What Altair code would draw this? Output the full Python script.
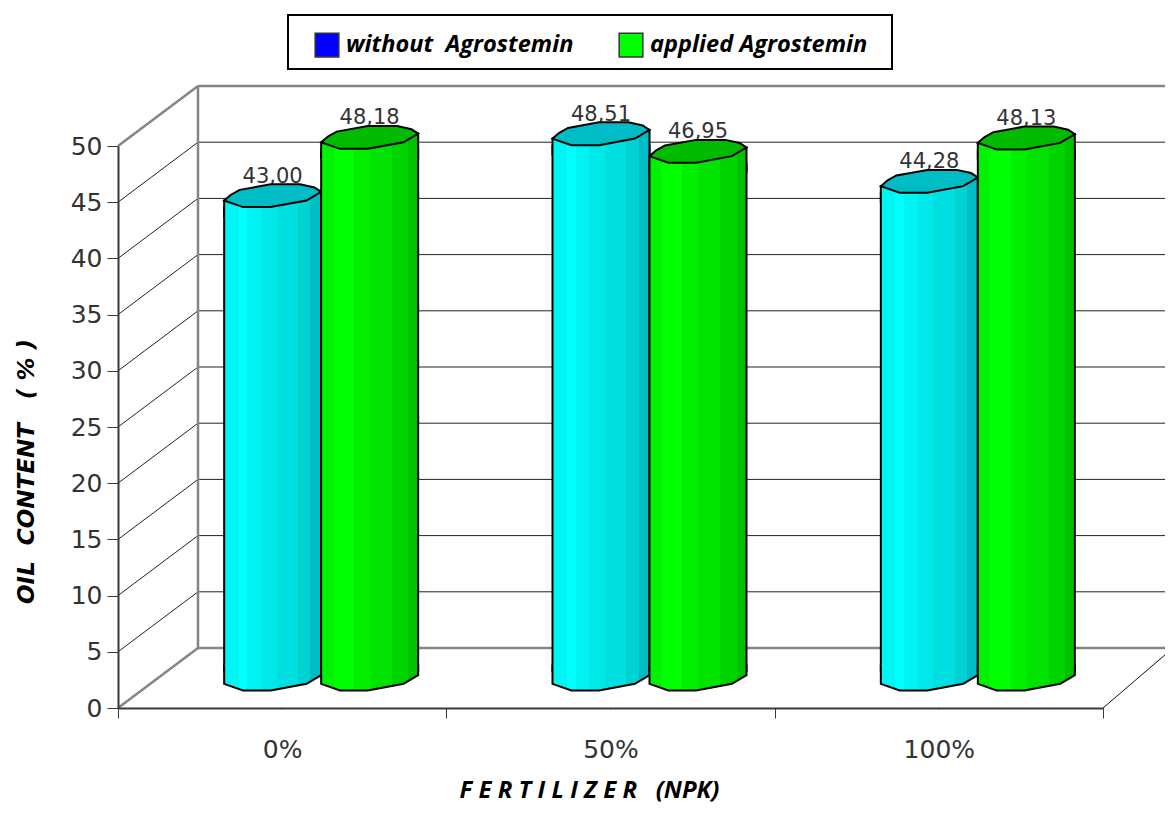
import altair as alt
import pandas as pd

# ---- values ----
categories = ["0%", "50%", "100%"]
series = ["without\u00a0\u00a0Agrostemin", "applied Agrostemin"]
without_values = [43.00, 48.51, 44.28]
applied_values = [48.18, 46.95, 48.13]
without_labels = ["43,00", "48,51", "44,28"]
applied_labels = ["48,18", "46,95", "48,13"]
ticks = [0, 5, 10, 15, 20, 25, 30, 35, 40, 45, 50]

cyan_bands = [(0.0, "#00f5f5"), (0.15, "#00ffff"), (0.24, "#00f4f4"), (0.38, "#00e8e8"),
              (0.54, "#00e0e0"), (0.76, "#00d2d2"), (0.89, "#00bcc4"), (1.0, None)]
green_bands = [(0.0, "#00f200"), (0.13, "#00ff00"), (0.34, "#00f000"), (0.51, "#00e200"),
               (0.73, "#00d400"), (0.90, "#00c200"), (1.0, None)]
CYAN_TOP = "#00bcc4"
GREEN_TOP = "#00bb00"

PLOT_W, PLOT_H = 985, 562
DEPTH_X, DEPTH_Y = 80, 60
UNITS = 50 / PLOT_H
BAR_DX, BAR_DY = 39, -29
DIAM = 97
PAD_OUTER = (PLOT_W / 3 / DIAM - 2) / 2

CAP = "M-1,-0.3 L-1,0.1 L-0.61,0.235 L-0.04,0.235 L0.7,0.1 L1,-0.08 L1,-0.3"
COLLAR = "M-1,0.45 L-1,0.1 L1,-0.08 L1,0.45"
ELLIPSE = ("M-1,0.1 L-0.86,-0.02 L-0.68,-0.12 L-0.04,-0.235 L0.565,-0.235 L0.86,-0.17 L1,-0.08 "
           "L0.7,0.1 L-0.04,0.235 L-0.61,0.235 Z")


def gradient(bands):
    stops = []
    for (a, col), (b, _) in zip(bands[:-1], bands[1:]):
        stops.append(alt.GradientStop(offset=a, color=col))
        stops.append(alt.GradientStop(offset=b, color=col))
    return alt.Gradient(gradient="linear", x1=0, x2=1, y1=0, y2=0, stops=stops)


bars = pd.DataFrame({
    "cat": categories * 2,
    "series": [series[0]] * 3 + [series[1]] * 3,
    "value": without_values + applied_values,
    "label": without_labels + applied_labels,
})
bars["zero"] = 0
bars["body_top"] = bars["value"] - 12 * UNITS
bars["body_base"] = 8 * UNITS

tick_df = pd.DataFrame({"tick": ticks})
tick_df["back"] = tick_df["tick"] + DEPTH_Y * UNITS
inner = tick_df[(tick_df.tick > 0) & (tick_df.tick < 50)]
edge = tick_df[(tick_df.tick == 0) | (tick_df.tick == 50)]
wall = pd.DataFrame({"lo": [DEPTH_Y * UNITS], "hi": [50 + DEPTH_Y * UNITS]})

x_front = alt.Scale(domain=categories, range=[0, PLOT_W], paddingInner=0, paddingOuter=0)
y_front = alt.Scale(domain=[0, 50], range=[PLOT_H, 0])
x_bar = alt.Scale(domain=categories, range=[BAR_DX, PLOT_W + BAR_DX], paddingInner=0, paddingOuter=0)
y_bar = alt.Scale(domain=[0, 50], range=[PLOT_H + BAR_DY, BAR_DY])
x_off = alt.XOffset("series:N", sort=series,
                    scale=alt.Scale(domain=series, paddingInner=0, paddingOuter=PAD_OUTER))

GRAY = "#858585"
AXC = "#3a3a3a"
LAB = "#333333"

# ---- frame (walls and gridlines) ----
Y = lambda f: alt.Y(f, type="quantitative", scale=y_front, axis=None)
Y2 = lambda f: alt.Y2(f)
frame = [
    alt.Chart(inner).mark_rule(color="#222222", strokeWidth=1).encode(
        x=alt.value(0), x2=alt.value(DEPTH_X), y=Y("tick"), y2=Y2("back")),
    alt.Chart(inner).mark_rule(color="#222222", strokeWidth=1).encode(
        x=alt.value(DEPTH_X), x2=alt.value(1055), y=Y("back")),
    alt.Chart(edge).mark_rule(color=GRAY, strokeWidth=2.5).encode(
        x=alt.value(0), x2=alt.value(DEPTH_X), y=Y("tick"), y2=Y2("back")),
    alt.Chart(edge).mark_rule(color=GRAY, strokeWidth=2.5).encode(
        x=alt.value(DEPTH_X), x2=alt.value(1055), y=Y("back")),
    alt.Chart(wall).mark_rule(color=GRAY, strokeWidth=2.5).encode(
        x=alt.value(DEPTH_X), y=Y("lo"), y2=Y2("hi")),
    alt.Chart(edge[edge.tick == 0]).mark_rule(color="#111111", strokeWidth=1).encode(
        x=alt.value(PLOT_W), x2=alt.value(1055), y=Y("tick"), y2=Y2("back")),
]

# ---- legend box ----
legend_box = alt.Chart(wall).mark_rect(fill="white", stroke="black", strokeWidth=2).encode(
    x=alt.value(170), x2=alt.value(774), y=alt.value(-131), y2=alt.value(-77))

# ---- axes and legend carrier ----
axes = alt.Chart(bars).mark_point(filled=True, shape="square", size=1).encode(
    x=alt.X("cat:N", scale=x_front, sort=categories, axis=alt.Axis(
        title="F\u00a0E\u00a0R\u00a0T\u00a0I\u00a0L\u00a0I\u00a0Z\u00a0E\u00a0R\u00a0\u00a0\u00a0(NPK)",
        titleFont="Open Sans", titleFontSize=24, titleFontWeight="bold", titleFontStyle="italic",
        titleColor="#000000", titleX=471, titleY=82, titleBaseline="middle", titleAnchor="middle",
        labelFont="DejaVu Sans", labelFontSize=25, labelColor=LAB, labelAngle=0, labelPadding=39,
        labelBaseline="alphabetic", tickBand="extent", tickSize=10, tickColor=AXC, tickWidth=1,
        domainColor=AXC, domainWidth=2, grid=False, zindex=1)),
    y=alt.Y("zero:Q", scale=y_front, axis=alt.Axis(
        title="OIL\u00a0\u00a0CONTENT\u00a0\u00a0\u00a0(\u00a0%\u00a0)",
        titleFont="DejaVu Sans", titleFontSize=23, titleFontWeight="bold", titleFontStyle="italic",
        titleColor="#000000", titleX=-92, titleY=325, titleAngle=270, titleBaseline="middle",
        titleAnchor="middle",
        values=ticks, labelFont="DejaVu Sans", labelFontSize=25, labelColor=LAB, labelPadding=5,
        tickSize=11, tickColor=AXC, tickWidth=1, domainColor=AXC, domainWidth=2, grid=False, zindex=1)),
    color=alt.Color("series:N", sort=series,
                    scale=alt.Scale(domain=series, range=["#0000ff", "#00ff00"]),
                    legend=alt.Legend(
                        title=None, orient="none", direction="horizontal", columns=2,
                        legendX=170, legendY=-128, padding=14,
                        symbolType="square", symbolSize=560, symbolStrokeColor="#333333",
                        symbolStrokeWidth=1.5, symbolOpacity=1, symbolOffset=12,
                        labelFont="Open Sans", labelFontSize=23.6, labelFontWeight="bold",
                        labelFontStyle="italic", labelColor="#000000", labelLimit=320,
                        columnPadding=32, labelOffset=6)),
)

# ---- cylinders ----
def cylinder(name, bands, top):
    grad = gradient(bands)
    base = alt.Chart(bars).transform_filter(alt.datum.series == name)
    X = alt.X("cat:N", scale=x_bar, sort=categories, axis=None)
    layers = [
        base.mark_bar(fill=grad, stroke="black", strokeWidth=2).encode(
            x=X, xOffset=x_off,
            y=alt.Y("body_top:Q", scale=y_bar, axis=None), y2="body_base:Q"),
        base.mark_point(shape=CAP, size=DIAM ** 2, fill=grad, fillOpacity=1, stroke="black",
                        strokeWidth=2, opacity=1).encode(
            x=X, xOffset=x_off, y=alt.Y("zero:Q", scale=y_bar, axis=None)),
        base.mark_point(shape=COLLAR, size=DIAM ** 2, fill=grad, fillOpacity=1, stroke="black",
                        strokeWidth=2, opacity=1).encode(
            x=X, xOffset=x_off, y=alt.Y("value:Q", scale=y_bar, axis=None)),
        base.mark_text(font="DejaVu Sans", fontSize=21, color=LAB, dy=-13, baseline="alphabetic",
                       align="center").encode(
            x=X, xOffset=x_off, y=alt.Y("value:Q", scale=y_bar, axis=None), text="label:N"),
        base.mark_point(shape=ELLIPSE, size=DIAM ** 2, fill=top, fillOpacity=1, stroke="black",
                        strokeWidth=2, opacity=1).encode(
            x=X, xOffset=x_off, y=alt.Y("value:Q", scale=y_bar, axis=None)),
    ]
    return layers


cyl = alt.layer(*cylinder(series[0], cyan_bands, CYAN_TOP),
                *cylinder(series[1], green_bands, GREEN_TOP))
back = alt.layer(axes, *frame, legend_box).resolve_axis(y="independent", x="independent")

chart = (
    alt.layer(back, cyl)
    .resolve_scale(x="independent", y="independent")
    .properties(width=PLOT_W, height=PLOT_H,
                autosize=alt.AutoSizeParams(type="none"),
                padding={"left": 110, "top": 138, "right": 62, "bottom": 98})
    .configure_view(stroke=None)
)

chart.save("out.html", embed_options={"renderer": "svg", "actions": False})
